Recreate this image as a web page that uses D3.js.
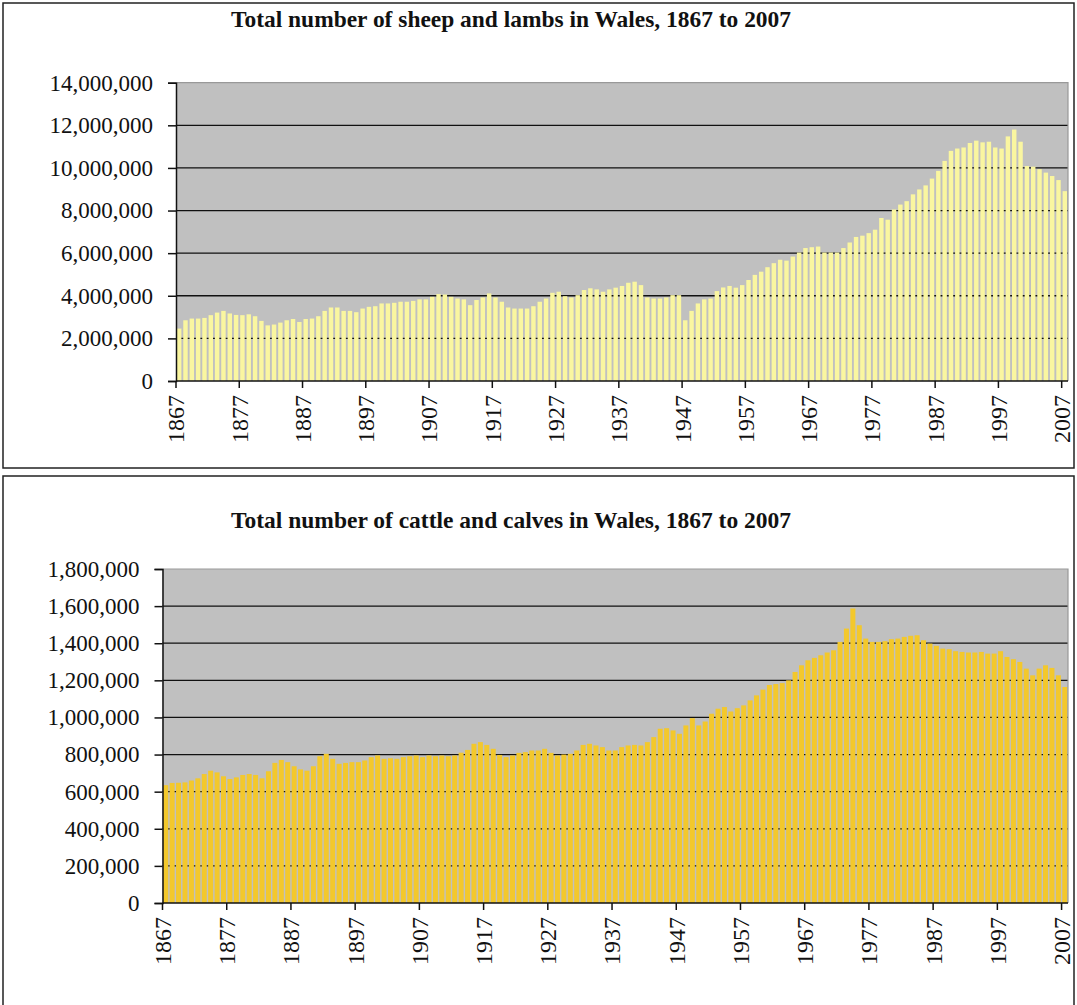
<!DOCTYPE html>
<html>
<head>
<meta charset="utf-8">
<script src="https://cdnjs.cloudflare.com/ajax/libs/d3/7.8.5/d3.min.js"></script>
<style>
  body { margin: 0; background: #fff; }
  svg text { font-family: "Liberation Serif", "Times New Roman", serif; fill: #111; }
</style>
</head>
<body>
<div id="chart"></div>
<script>
// categories
const years = d3.range(1867, 2008);
const yearTicks = [1867, 1877, 1887, 1897, 1907, 1917, 1927, 1937, 1947, 1957, 1967, 1977, 1987, 1997, 2007];

// sheep and lambs, thousands
const sheepThousands = [
  2460, 2850, 2930, 2930, 2960, 3090, 3210, 3290, 3170, 3100,
  3090, 3130, 3040, 2820, 2610, 2650, 2740, 2850, 2910, 2770,
  2910, 2930, 3040, 3290, 3450, 3450, 3290, 3290, 3230, 3400,
  3480, 3510, 3640, 3640, 3670, 3720, 3720, 3760, 3830, 3830,
  3950, 4080, 4060, 3950, 3870, 3830, 3560, 3800, 3920, 4110,
  3920, 3720, 3450, 3400, 3400, 3400, 3510, 3720, 3870, 4140,
  4190, 3980, 3920, 4030, 4270, 4350, 4300, 4190, 4300, 4380,
  4460, 4610, 4660, 4500, 3920, 3870, 3870, 3920, 4030, 4030,
  2850, 3290, 3640, 3830, 3870, 4220, 4390, 4460, 4380, 4500,
  4740, 4980, 5130, 5340, 5530, 5690, 5650, 5840, 6030, 6240,
  6280, 6310, 6030, 6030, 6030, 6240, 6500, 6760, 6820, 6940,
  7100, 7650, 7570, 8050, 8280, 8440, 8760, 8990, 9180, 9500,
  9860, 10330, 10800, 10910, 10960, 11170, 11280, 11200, 11230, 10960,
  10910, 11480, 11800, 11230, 10090, 10060, 9940, 9780, 9620, 9430,
  8910
];

// cattle and calves, thousands
const cattleThousands = [
  635, 647, 648, 650, 660, 672, 695, 713, 704, 683,
  668, 677, 690, 695, 690, 672, 710, 755, 771, 759,
  737, 720, 713, 737, 791, 804, 777, 750, 755, 759,
  759, 768, 786, 795, 777, 780, 777, 786, 791, 795,
  786, 795, 791, 795, 791, 795, 810, 825, 858, 867,
  852, 831, 798, 786, 795, 809, 813, 822, 822, 831,
  809, 795, 800, 804, 822, 852, 858, 849, 840, 822,
  822, 840, 849, 852, 849, 867, 894, 939, 942, 930,
  912, 957, 996, 957, 978, 1020, 1047, 1056, 1032, 1050,
  1065, 1092, 1119, 1150, 1175, 1180, 1185, 1200, 1245, 1281,
  1308, 1321, 1335, 1350, 1362, 1407, 1479, 1587, 1497, 1425,
  1407, 1407, 1411, 1422, 1425, 1434, 1440, 1443, 1416, 1398,
  1386, 1371, 1368, 1357, 1353, 1350, 1350, 1353, 1344, 1344,
  1357, 1326, 1314, 1299, 1263, 1227, 1263, 1281, 1267, 1227,
  1164
];

// y tick values, thousands
const sheepTicks = [0, 2000, 4000, 6000, 8000, 10000, 12000, 14000];
const cattleTicks = [0, 200, 400, 600, 800, 1000, 1200, 1400, 1600, 1800];

const svg = d3.select('#chart')
  .append('svg')
  .attr('width', 1077)
  .attr('height', 1005);

function drawPanel(opts) {
  const g = svg.append('g');

  // panel frame
  g.append('rect')
    .attr('x', opts.box.x)
    .attr('y', opts.box.y)
    .attr('width', opts.box.w)
    .attr('height', opts.box.h)
    .attr('fill', '#fff')
    .attr('stroke', '#222')
    .attr('stroke-width', 1.5);

  g.append('text')
    .attr('x', 511)
    .attr('y', opts.titleY)
    .attr('text-anchor', 'middle')
    .attr('font-size', 24)
    .attr('font-weight', 'bold')
    .attr('textLength', 560)
    .attr('lengthAdjust', 'spacingAndGlyphs')
    .text(opts.title);

  const { left, right, top, bottom } = opts.plot;

  const x = d3.scaleBand()
    .domain(years)
    .range([left, right])
    .paddingInner(opts.pad)
    .paddingOuter(opts.pad / 2);

  const y = d3.scaleLinear()
    .domain([0, d3.max(opts.ticks)])
    .range([bottom, top]);

  // plot background
  g.append('rect')
    .attr('x', left)
    .attr('y', top)
    .attr('width', right - left)
    .attr('height', bottom - top)
    .attr('fill', '#c0c0c0');

  // gridlines behind the bars
  g.selectAll('.grid')
    .data(opts.ticks.slice(1, -1))
    .enter()
    .append('line')
    .attr('x1', left)
    .attr('x2', right)
    .attr('y1', d => y(d))
    .attr('y2', d => y(d))
    .attr('stroke', '#111')
    .attr('stroke-width', 1.3);

  g.selectAll('.bar')
    .data(opts.values)
    .enter()
    .append('rect')
    .attr('x', (d, i) => x(years[i]))
    .attr('y', d => y(d))
    .attr('width', x.bandwidth())
    .attr('height', d => bottom - y(d))
    .attr('fill', opts.color);

  // light border on top and right of the plot area
  g.append('path')
    .attr('d', `M${left},${top}H${right}V${bottom}`)
    .attr('fill', 'none')
    .attr('stroke', '#999')
    .attr('stroke-width', 1.2);

  // y axis
  const yAxis = g.append('g')
    .attr('transform', `translate(${left},0)`)
    .call(d3.axisLeft(y)
      .tickValues(opts.ticks)
      .tickSize(8)
      .tickPadding(15)
      .tickFormat(d => d3.format(',')(d * 1000)));
  yAxis.select('.domain').attr('stroke', '#111').attr('stroke-width', 1.5);
  yAxis.selectAll('.tick line').attr('stroke', '#111').attr('stroke-width', 1.5);
  yAxis.selectAll('text').attr('font-size', 23).attr('font-family', null);

  // x axis, ticks at the start of each category slot
  const xAxis = g.append('g')
    .attr('transform', `translate(${-x.step() / 2},${bottom})`)
    .call(d3.axisBottom(x).tickValues(yearTicks).tickSize(7));
  xAxis.select('.domain').remove();
  xAxis.selectAll('.tick line').attr('stroke', '#111').attr('stroke-width', 1.5);
  xAxis.selectAll('text')
    .attr('font-size', 24)
    .attr('font-family', null)
    .attr('transform', 'rotate(-90)')
    .attr('x', -14)
    .attr('y', 0)
    .attr('dy', '0.35em')
    .style('text-anchor', 'end');

  g.append('line')
    .attr('x1', left)
    .attr('x2', right)
    .attr('y1', bottom)
    .attr('y2', bottom)
    .attr('stroke', '#111')
    .attr('stroke-width', 1.5);
}

drawPanel({
  box: { x: 3, y: 3, w: 1071, h: 465 },
  title: 'Total number of sheep and lambs in Wales, 1867 to 2007',
  titleY: 27,
  plot: { left: 176, right: 1068, top: 82.7, bottom: 381 },
  values: sheepThousands,
  ticks: sheepTicks,
  color: '#faf6a0',
  pad: 0.3
});

drawPanel({
  box: { x: 3, y: 476, w: 1071, h: 540 },
  title: 'Total number of cattle and calves in Wales, 1867 to 2007',
  titleY: 528,
  plot: { left: 162.5, right: 1068, top: 569, bottom: 903 },
  values: cattleThousands,
  ticks: cattleTicks,
  color: '#f3c82c',
  pad: 0.22
});
</script>
</body>
</html>
